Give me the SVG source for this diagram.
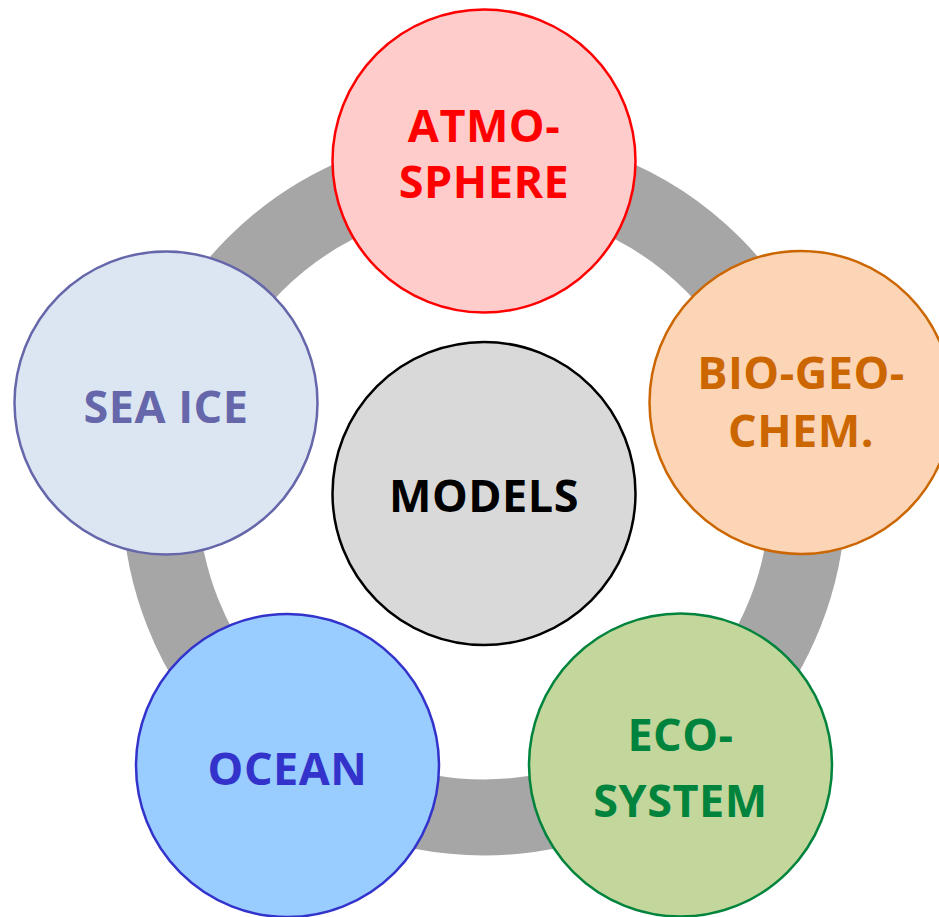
<svg xmlns="http://www.w3.org/2000/svg" width="939" height="917" viewBox="0 0 939 917">
<style>
text{font-family:"Open Sans","Noto Sans","DejaVu Sans",sans-serif;font-weight:700;font-size:45px;letter-spacing:0.5px;text-anchor:middle}
circle.n{stroke-width:2.5}
</style>
<rect width="939" height="917" fill="#fff"/>
<g id="connectors">
<circle cx="484" cy="493.5" r="324" fill="none" stroke="#A6A6A6" stroke-width="76"/>
</g>
<g id="models">
<circle class="n" cx="484" cy="493.5" r="151.5" fill="#D9D9D9" stroke="#000"/>
<text x="484" y="512" fill="#000">MODELS</text>
</g>
<g id="atmosphere">
<circle class="n" cx="484" cy="161" r="151.5" fill="#FFCCCC" stroke="#FF0000"/>
<text x="484" y="142" fill="#FF0000">ATMO-</text>
<text x="484" y="198" fill="#FF0000">SPHERE</text>
</g>
<g id="biogeochem">
<circle class="n" cx="801" cy="402.5" r="151.5" fill="#FBD5B5" stroke="#CC6600"/>
<text x="801" y="389" fill="#CC6600">BIO-GEO-</text>
<text x="801" y="447" fill="#CC6600">CHEM.</text>
</g>
<g id="ecosystem">
<circle class="n" cx="680.5" cy="765" r="151.5" fill="#C3D69B" stroke="#00843D"/>
<text x="680.5" y="751" fill="#00843D">ECO-</text>
<text x="680.5" y="817" fill="#00843D">SYSTEM</text>
</g>
<g id="ocean">
<circle class="n" cx="287.5" cy="765.5" r="151.5" fill="#99CCFF" stroke="#3333CC"/>
<text x="287.5" y="785" fill="#3333CC">OCEAN</text>
</g>
<g id="seaice">
<circle class="n" cx="166" cy="403" r="151.5" fill="#DCE6F2" stroke="#6666AA"/>
<text x="166" y="423" fill="#6666AA">SEA ICE</text>
</g>
</svg>
